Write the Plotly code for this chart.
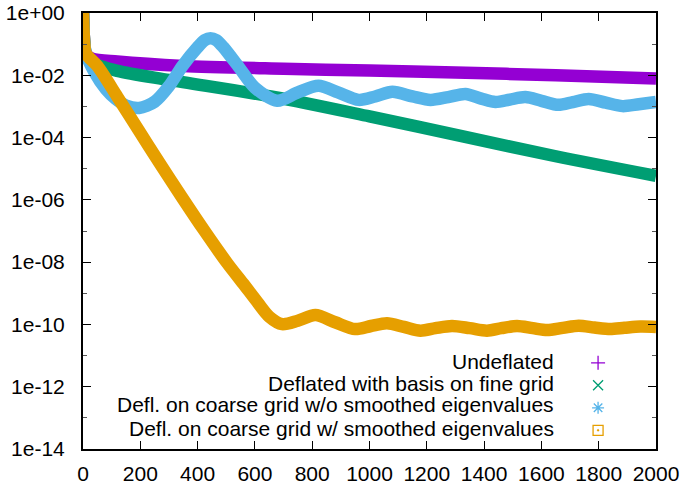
import numpy as np
import plotly.graph_objects as go

# residual norms as log10 values
undeflated_it = [0, 4, 10, 30, 120, 350, 700, 1000, 1300, 1650, 2000]
undeflated_log = [0, -0.9, -1.3, -1.46, -1.56, -1.70, -1.79, -1.85, -1.91, -2.0, -2.1]

fine_it = [0, 4, 10, 30, 120, 300, 670, 1000, 1330, 1650, 2000]
fine_log = [0, -0.9, -1.3, -1.58, -1.86, -2.15, -2.7, -3.32, -3.97, -4.6, -5.23]

coarse_it = [0, 4, 10, 40, 80, 113, 150, 196, 250, 300, 347, 400, 425, 445, 465, 490, 545, 600,
             678, 750, 822, 890, 962, 1020, 1080, 1150, 1213, 1275, 1335, 1390,
             1440, 1490, 1544, 1600, 1659, 1710, 1765, 1825, 1883, 1940, 2000]
coarse_log = [0, -0.9, -1.3, -1.9, -2.45, -2.75, -2.97, -3.05, -2.85, -2.35, -1.70,
              -1.1, -0.87, -0.81, -0.87, -1.1, -1.75, -2.4,
              -2.82, -2.55, -2.34, -2.55, -2.79, -2.68, -2.53, -2.68, -2.79, -2.7, -2.6, -2.75,
              -2.86, -2.78, -2.7, -2.82, -2.95, -2.86, -2.76, -2.88, -2.99, -2.93, -2.86]

smooth_it = [0, 4, 10, 50, 120, 194, 268, 344, 422, 504, 560, 610, 650, 695, 750, 811,
             880, 950, 1005, 1061, 1120, 1178, 1230, 1288, 1350, 1410, 1460, 1515, 1570, 1620,
             1675, 1730, 1785, 1840, 1890, 1945, 2000]
smooth_log = [0, -0.9, -1.3, -1.7, -2.69, -3.76, -4.83, -5.9, -6.97, -8.04, -8.7, -9.3,
              -9.75, -9.99, -9.88, -9.7, -9.93, -10.15, -10.05, -9.96, -10.08, -10.2, -10.12,
              -10.05, -10.12, -10.2, -10.12, -10.05, -10.12, -10.18, -10.11, -10.04, -10.1, -10.15,
              -10.11, -10.07, -10.08]

labels = ["Undeflated",
          "Deflated with basis on fine grid",
          "Defl. on coarse grid w/o smoothed eigenvalues",
          "Defl. on coarse grid w/ smoothed eigenvalues"]
colors = ["#9400d3", "#009e73", "#56b4e9", "#e69f00"]
symbols = ["cross-thin-open", "x-thin-open", "asterisk-open", "square-open-dot"]

xticks = list(range(0, 2001, 200))
ytick_exp = list(range(0, -15, -2))
ytick_text = ["1e+00", "1e-02", "1e-04", "1e-06", "1e-08", "1e-10", "1e-12", "1e-14"]

series = [(undeflated_it, undeflated_log), (fine_it, fine_log),
          (coarse_it, coarse_log), (smooth_it, smooth_log)]

fig = go.Figure()
for (it, lg), col in zip(series, colors):
    fig.add_trace(go.Scatter(x=it, y=10.0 ** np.array(lg), mode="lines",
                             line=dict(color=col, width=12.5, shape="spline", smoothing=0.8),
                             showlegend=False, hoverinfo="skip"))

# legend symbols only, text is put next to them with annotations
for lab, col, sym in zip(labels, colors, symbols):
    fig.add_trace(go.Scatter(x=[None], y=[None], mode="markers", name=" ",
                             marker=dict(symbol=sym, size=10, color=col,
                                         line=dict(color=col, width=1.3))))

font = dict(family="Liberation Sans, Arial, sans-serif", size=21, color="black")

row_y = [0.2, 0.151, 0.101, 0.048]
for lab, ry in zip(labels, row_y):
    fig.add_annotation(text=lab, xref="paper", yref="paper", x=0.825, y=ry,
                       xanchor="right", yanchor="middle", showarrow=False, font=font)

fig.update_layout(
    width=684, height=484,
    margin=dict(l=83, r=28, t=13, b=35),
    paper_bgcolor="white", plot_bgcolor="white",
    font=font,
    legend=dict(x=0.864, y=0.235, xanchor="left", yanchor="top",
                bgcolor="rgba(0,0,0,0)", font=dict(size=15), tracegroupgap=0),
)
fig.update_xaxes(range=[0, 2000], tickvals=xticks, ticks="inside", ticklen=8,
                 tickcolor="black", tickwidth=1, showline=True, linecolor="black",
                 linewidth=2, mirror="allticks", showgrid=False, zeroline=False,
                 ticklabelstandoff=5, automargin=False)
fig.update_yaxes(type="log", range=[-14, 0], tickvals=[10.0 ** e for e in ytick_exp],
                 ticktext=ytick_text, ticks="inside", ticklen=8, tickcolor="black",
                 tickwidth=1, showline=True, linecolor="black", linewidth=2,
                 mirror="allticks", showgrid=False, zeroline=False, ticklabelstandoff=12,
                 automargin=False,
                 minor=dict(tickvals=[10.0 ** e for e in range(-1, -14, -2)],
                            ticks="inside", ticklen=4, tickcolor="#555", showgrid=False))

# drop the default 8px page margin so the figure fills the window
fig.write_html("out.html", config={"displayModeBar": False},
               post_script="document.body.style.margin = '0';")
